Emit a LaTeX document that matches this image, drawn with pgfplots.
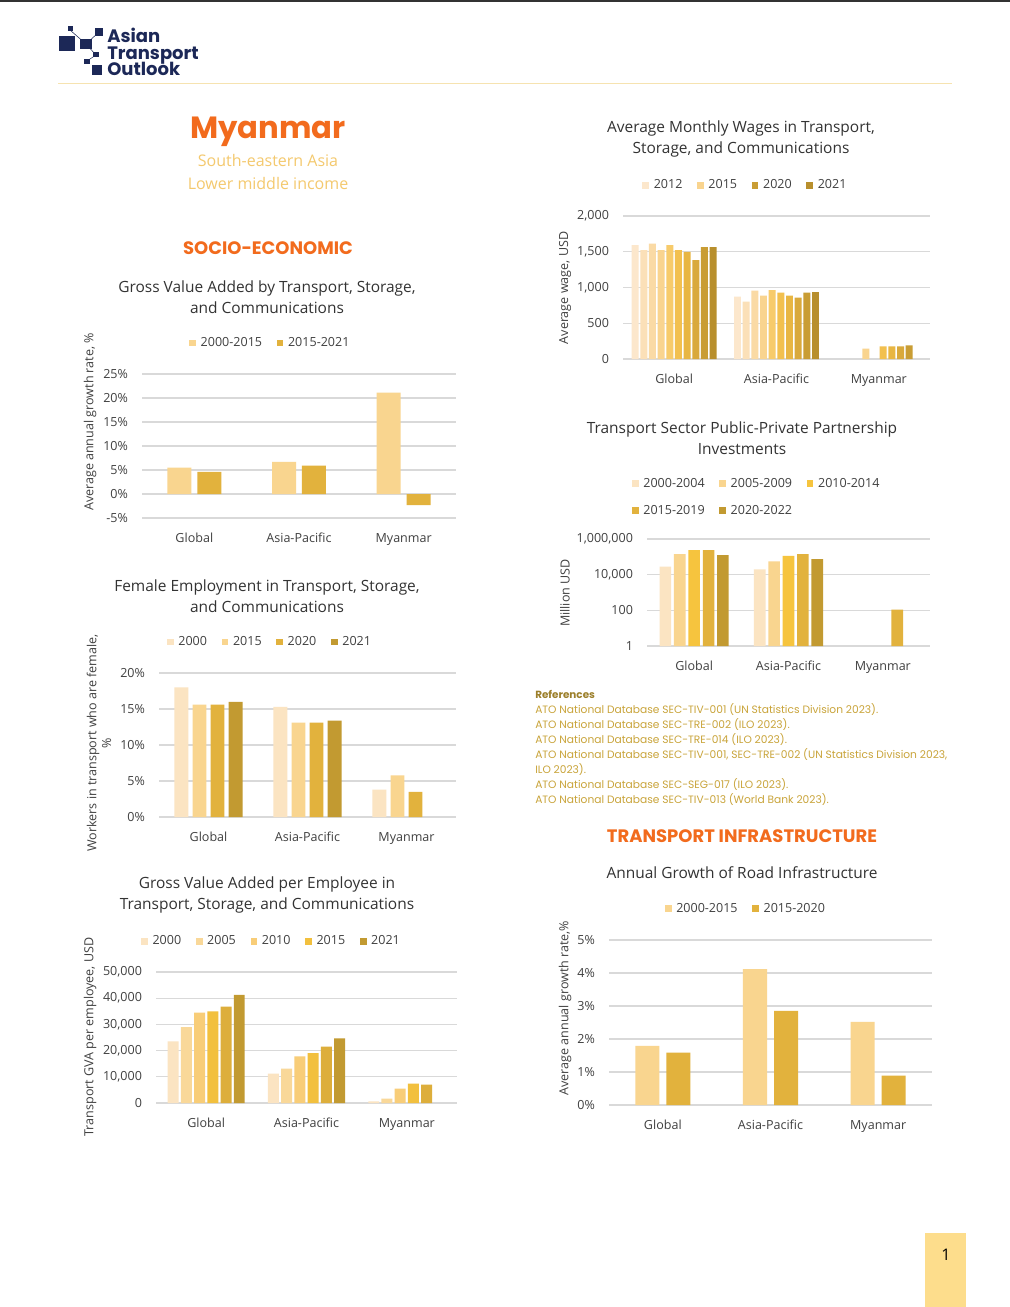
\documentclass[border=0pt]{standalone}
\usepackage{fontspec}
\setmainfont{Open Sans}
\newfontfamily\pop{Poppins}
\usepackage{pgfplots}
\pgfplotsset{compat=1.18}

\definecolor{txt}{HTML}{404040}
\definecolor{ttl}{HTML}{333333}
\definecolor{grd}{HTML}{D9D9D9}
\definecolor{ora}{HTML}{F26B1D}
\definecolor{sub}{HTML}{F4C96E}
\definecolor{navy}{HTML}{1C2857}
\definecolor{refc}{HTML}{C9A43A}
\definecolor{refb}{HTML}{9C7F2A}
\definecolor{hline}{HTML}{F6E3B0}
\definecolor{pagebox}{HTML}{FDDD8C}
% bar shades, light to dark
\definecolor{gA}{HTML}{FBE4C2}
\definecolor{gB}{HTML}{F9D58F}
\definecolor{gC}{HTML}{F8CD78}
\definecolor{gD}{HTML}{F6C43E}
\definecolor{gE}{HTML}{E2B23D}
\definecolor{gF}{HTML}{C29A31}
% wages: ten shades
\definecolor{w1}{HTML}{FCE7CC}
\definecolor{w2}{HTML}{FBE0B8}
\definecolor{w3}{HTML}{FADAA5}
\definecolor{w4}{HTML}{F9D48F}
\definecolor{w5}{HTML}{F7CB6B}
\definecolor{w6}{HTML}{F2C04F}
\definecolor{w7}{HTML}{E8B643}
\definecolor{w8}{HTML}{D9A93C}
\definecolor{w9}{HTML}{C99D34}
\definecolor{w10}{HTML}{B88F2D}

\newcommand\tkfont{\fontsize{9.4}{11}\selectfont}
\newcommand\ttfont{\fontsize{11.6}{15.75}\selectfont}

\pgfplotsset{
  base/.style={
    scale only axis, ybar, anchor=south west,
    axis line style={draw=none}, major tick length=0pt,
    ymajorgrids, grid style={draw=grd, line width=0.8pt},
    xmin=-0.5, xmax=2.5, xtick={0,1,2},
    xticklabels={Global,Asia-Pacific,Myanmar},
    tick label style={font=\tkfont, text=txt},
    yticklabel style={xshift=-7pt},
    xticklabel style={yshift=-8pt},
    /pgf/number format/assume math mode=true,
    legend style={draw=none, fill=none, font=\tkfont, text=txt,
      legend columns=-1, anchor=center,
      /tikz/every odd column/.append style={column sep=1.5pt},
      /tikz/every even column/.append style={column sep=9pt}},
    legend image code/.code={\fill[##1] (0pt,-2.5pt) rectangle (5pt,2.5pt);},
  },
}

\begin{document}
\begin{tikzpicture}[x=0.75pt,y=-0.75pt]
\useasboundingbox (0,0) rectangle (1010,1307);
\fill[white] (0,0) rectangle (1010,1307);
\fill[ttl] (0,0) rectangle (1010,1.5);

% logo
\fill[navy] (59,36) rectangle (75,51);
\fill[navy] (68,26) rectangle (73,31);
\fill[navy] (80,39) rectangle (92,49);
\fill[navy] (95,28) rectangle (103,36);
\fill[navy] (93,52) rectangle (99,57);
\fill[navy] (84,59) rectangle (90,64);
\fill[navy] (92,65) rectangle (102,75);
\draw[navy, line width=0.4pt] (70,30) -- (86,44) -- (99,32);
\draw[navy, line width=0.4pt] (86,44) -- (96,55) -- (87,61);
\node[anchor=base west, inner sep=0, font=\pop\bfseries\fontsize{13.5}{16}\selectfont, navy] at (107,42) {Asian};
\node[anchor=base west, inner sep=0, font=\pop\bfseries\fontsize{13.5}{16}\selectfont, navy] at (107,59) {Transport};
\node[anchor=base west, inner sep=0, font=\pop\bfseries\fontsize{13.5}{16}\selectfont, navy] at (107,75) {Outlook};
\draw[hline, line width=0.75pt] (58,83) -- (952,83);

% country header
\node[font=\pop\bfseries\fontsize{23}{26}\selectfont, ora] at (268,132) {Myanmar};
\node[font=\fontsize{12}{14}\selectfont, sub] at (268,160) {South-eastern Asia};
\node[font=\fontsize{12}{14}\selectfont, sub] at (268,183) {Lower middle income};
\node[font=\pop\bfseries\fontsize{13.5}{16}\selectfont, ora] at (268,248) {SOCIO-ECONOMIC};
\node[font=\pop\bfseries\fontsize{13.5}{16}\selectfont, ora] at (742,836) {TRANSPORT INFRASTRUCTURE};

% chart titles
\node[font=\ttfont, ttl, align=center] at (267,297) {Gross Value Added by Transport, Storage,\\and Communications};
\node[font=\ttfont, ttl, align=center] at (267,596) {Female Employment in Transport, Storage,\\and Communications};
\node[font=\ttfont, ttl, align=center] at (267,895) {Gross Value Added per Employee in\\Transport, Storage, and Communications};
\node[font=\ttfont, ttl, align=center] at (741,139) {Average Monthly Wages in Transport,\\Storage, and Communications};
\node[font=\ttfont, ttl, align=center] at (742,438) {Transport Sector Public-Private Partnership\\Investments};
\node[font=\ttfont, ttl, align=center] at (742,873) {Annual Growth of Road Infrastructure};

% y axis titles
\node[font=\tkfont, txt, rotate=90] at (90,422) {Average annual growth rate, \%};
\node[font=\tkfont, txt, rotate=90, align=center] at (99,743) {Workers in transport who are female,\\\%};
\node[font=\tkfont, txt, rotate=90] at (90,1037) {Transport GVA per employee, USD};
\node[font=\tkfont, txt, rotate=90] at (565,288) {Average wage, USD};
\node[font=\tkfont, txt, rotate=90] at (565,593) {Million USD};
\node[font=\tkfont, txt, rotate=90] at (565,1008) {Average annual growth rate,\%};

% 1 GVA growth
\begin{axis}[base, at={(106.5pt,-388.5pt)}, width=235.5pt, height=108pt,
  ymin=-5, ymax=25, ytick={-5,0,5,10,15,20,25},
  yticklabels={-5\%,0\%,5\%,10\%,15\%,20\%,25\%},
  legend style={at={(0.41,1.215)}}]
\addplot[fill=gB, draw=none, bar width=0.229, bar shift=-0.143] coordinates {(0,5.5) (1,6.7) (2,21.1)};
\addlegendentry{2000-2015}
\addplot[fill=gE, draw=none, bar width=0.229, bar shift=0.143] coordinates {(0,4.6) (1,5.9) (2,-2.3)};
\addlegendentry{2015-2021}
\end{axis}

% 2 female employment
\begin{axis}[base, at={(119.25pt,-612.75pt)}, width=222.75pt, height=108pt,
  ymin=0, ymax=20, ytick={0,5,10,15,20},
  yticklabels={0\%,5\%,10\%,15\%,20\%},
  legend style={at={(0.375,1.215)}}]
\addplot[fill=gA, draw=none, bar width=0.141, bar shift=-0.273] coordinates {(0,18.0) (1,15.3) (2,3.8)};
\addlegendentry{2000}
\addplot[fill=gB, draw=none, bar width=0.141, bar shift=-0.091] coordinates {(0,15.6) (1,13.1) (2,5.8)};
\addlegendentry{2015}
\addplot[fill=gE, draw=none, bar width=0.141, bar shift=0.091] coordinates {(0,15.6) (1,13.1) (2,3.5)};
\addlegendentry{2020}
\addplot[fill=gF, draw=none, bar width=0.141, bar shift=0.273] coordinates {(0,16.0) (1,13.4)};
\addlegendentry{2021}
\end{axis}

% 3 GVA per employee
\begin{axis}[base, at={(117pt,-827.25pt)}, width=225.75pt, height=98.25pt,
  ymin=0, ymax=50000, ytick={0,10000,20000,30000,40000,50000},
  scaled y ticks=false,
  legend style={at={(0.385,1.235)}}]
\addplot[fill=gA, draw=none, bar width=0.109, bar shift=-0.330] coordinates {(0,23500) (1,11200) (2,600)};
\addlegendentry{2000}
\addplot[fill=gB!80!gA, draw=none, bar width=0.109, bar shift=-0.198] coordinates {(0,29000) (1,13100) (2,1700)};
\addlegendentry{2005}
\addplot[fill=gC, draw=none, bar width=0.109, bar shift=-0.066] coordinates {(0,34500) (1,17800) (2,5500)};
\addlegendentry{2010}
\addplot[fill=gD!80!gE, draw=none, bar width=0.109, bar shift=0.066] coordinates {(0,35000) (1,19000) (2,7400)};
\addlegendentry{2015}
\addplot[forget plot, fill=gE!85!gF, draw=none, bar width=0.109, bar shift=0.198] coordinates {(0,36800) (1,21500) (2,7000)};
\addplot[fill=gF, draw=none, bar width=0.109, bar shift=0.330] coordinates {(0,41300) (1,24700)};
\addlegendentry{2021}
\end{axis}

% 4 wages
\begin{axis}[base, at={(467.25pt,-269.25pt)}, width=230.25pt, height=107.25pt,
  ymin=0, ymax=2000, ytick={0,500,1000,1500,2000},
  legend style={at={(0.40,1.215)}}]
\addplot[fill=w1, draw=none, bar width=0.068, bar shift=-0.381] coordinates {(0,1592) (1,872)};
\addlegendentry{2012}
\addplot[forget plot, fill=w2, draw=none, bar width=0.068, bar shift=-0.296] coordinates {(0,1522) (1,803)};
\addplot[forget plot, fill=w3, draw=none, bar width=0.068, bar shift=-0.212] coordinates {(0,1615) (1,956)};
\addplot[fill=w4, draw=none, bar width=0.068, bar shift=-0.127] coordinates {(0,1522) (1,886) (2,145)};
\addlegendentry{2015}
\addplot[forget plot, fill=w5, draw=none, bar width=0.068, bar shift=-0.042] coordinates {(0,1592) (1,965)};
\addplot[forget plot, fill=w6, draw=none, bar width=0.068, bar shift=0.042] coordinates {(0,1522) (1,928) (2,176)};
\addplot[forget plot, fill=w7, draw=none, bar width=0.068, bar shift=0.127] coordinates {(0,1499) (1,886) (2,176)};
\addplot[forget plot, fill=w8, draw=none, bar width=0.068, bar shift=0.212] coordinates {(0,1383) (1,858) (2,176)};
\addplot[fill=w9, draw=none, bar width=0.068, bar shift=0.296] coordinates {(0,1564) (1,928) (2,190)};
\addlegendentry{2020}
\addplot[fill=w10, draw=none, bar width=0.068, bar shift=0.381] coordinates {(0,1564) (1,937)};
\addlegendentry{2021}
\end{axis}

% 5 PPP investments (log)
\begin{axis}[base, at={(485.25pt,-484.5pt)}, width=212.25pt, height=80.25pt,
  ymode=log, ymin=1, ymax=1000000, ytick={1,100,10000,1000000},
  yticklabels={1,100,{10,000},{1,000,000}},
  legend columns=3,
  legend style={at={(-0.068,1.39)}, anchor=west, /tikz/row sep=8pt}]
\addplot[fill=gA, draw=none, bar width=0.123, bar shift=-0.305] coordinates {(0,28000) (1,20000)};
\addlegendentry{2000-2004}
\addplot[fill=gB, draw=none, bar width=0.123, bar shift=-0.153] coordinates {(0,141000) (1,56000)};
\addlegendentry{2005-2009}
\addplot[fill=gD, draw=none, bar width=0.123, bar shift=0] coordinates {(0,240000) (1,115000)};
\addlegendentry{2010-2014}
\addplot[fill=gE, draw=none, bar width=0.123, bar shift=0.153] coordinates {(0,240000) (1,141000) (2,110)};
\addlegendentry{2015-2019}
\addplot[fill=gF, draw=none, bar width=0.123, bar shift=0.305] coordinates {(0,124000) (1,74000)};
\addlegendentry{2020-2022}
\end{axis}

% 6 road growth
\begin{axis}[base, at={(456.75pt,-828.75pt)}, width=242.25pt, height=123.75pt,
  ymin=0, ymax=5, ytick={0,1,2,3,4,5},
  yticklabels={0\%,1\%,2\%,3\%,4\%,5\%},
  legend style={at={(0.425,1.19)}}]
\addplot[fill=gB, draw=none, bar width=0.223, bar shift=-0.144] coordinates {(0,1.79) (1,4.12) (2,2.52)};
\addlegendentry{2000-2015}
\addplot[fill=gE, draw=none, bar width=0.223, bar shift=0.144] coordinates {(0,1.59) (1,2.85) (2,0.89)};
\addlegendentry{2015-2020}
\end{axis}

% references
\node[anchor=base west, inner sep=0, font=\pop\bfseries\fontsize{7.8}{8}\selectfont, refb] at (535,698) {References};
\foreach \t [count=\i] in {
  ATO National Database SEC-TIV-001 (UN Statistics Division 2023).,
  ATO National Database SEC-TRE-002 (ILO 2023).,
  ATO National Database SEC-TRE-014 (ILO 2023).,
  {ATO National Database SEC-TIV-001, SEC-TRE-002 (UN Statistics Division 2023,},
  ILO 2023).,
  ATO National Database SEC-SEG-017 (ILO 2023).,
  ATO National Database SEC-TIV-013 (World Bank 2023).}
  \node[anchor=base west, inner sep=0, font=\pop\fontsize{8}{9}\selectfont, refc] at (535,698+15*\i) {\t};

% page number
\fill[pagebox] (925,1233) rectangle (966,1307);
\node[font=\fontsize{12}{14}\selectfont, black] at (946,1255) {1};
\end{tikzpicture}
\end{document}
